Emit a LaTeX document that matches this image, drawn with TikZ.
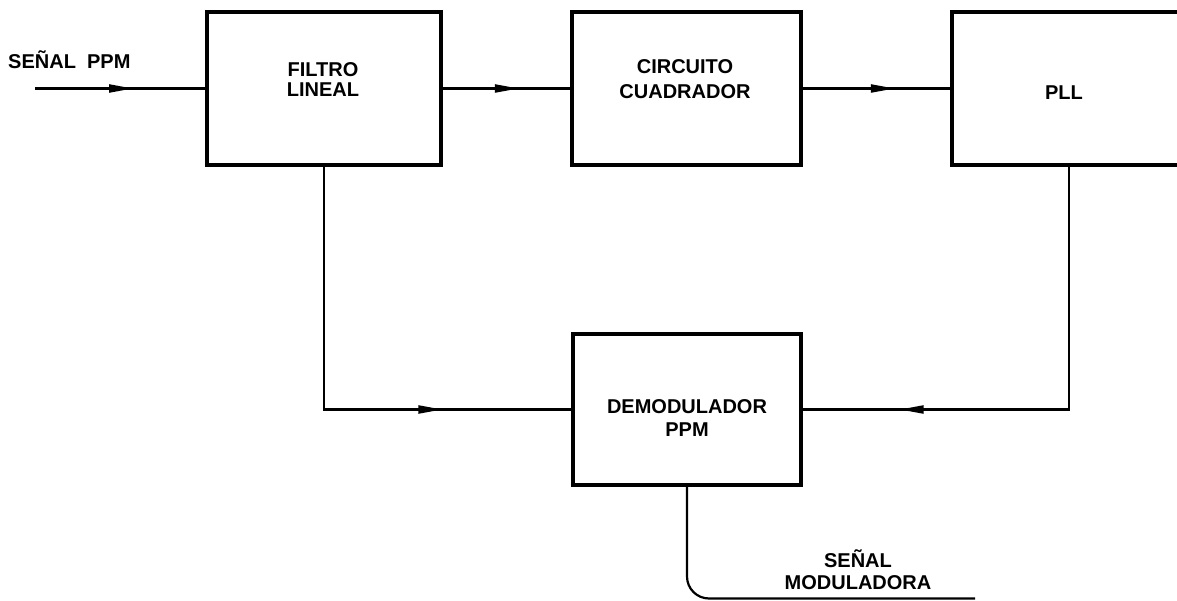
\documentclass[tikz,border=0pt]{standalone}
\usepackage{fontspec}
\setmainfont{Liberation Sans}
\usetikzlibrary{arrows.meta,decorations.markings}
\tikzset{
  blockbox/.style={draw, line width=3.6pt, inner sep=0pt},
  lbl/.style={font=\fontsize{20}{#1}\selectfont\bfseries, align=center, inner sep=0pt},
  lbl/.default=22,
  wire/.style={line width=2.2pt},
  midarrow/.style={postaction={decorate}, decoration={markings,
      mark=at position #1 with {\arrow{Triangle[length=24pt,width=8pt]}}}}
}
\begin{document}
\begin{tikzpicture}[x=1pt,y=-1pt]
\useasboundingbox (0,0) rectangle (1177,601);
\fill[white] (0,0) rectangle (1177,601);
\clip (0,0) rectangle (1177,601);

% blocks
\node[blockbox, minimum width=234pt, minimum height=153pt] (filtro) at (324,88.5) {};
\node[blockbox, minimum width=229pt, minimum height=153pt] (circ) at (686.5,88.5) {};
\node[blockbox, minimum width=234pt, minimum height=153pt] (pll) at (1069,88.5) {};
\node[blockbox, minimum width=228pt, minimum height=151pt] (demod) at (687,409.5) {};

% labels
\node[lbl=20] (filtrotxt) at (323,80) {FILTRO\\LINEAL};
\node[lbl=25] (circtxt) at (685,79) {CIRCUITO\\CUADRADOR};
\node[lbl] (plltxt) at (1064,93) {PLL};
\node[lbl=23] (demodtxt) at (687,418) {DEMODULADOR\\PPM};
\node[lbl, anchor=west] (intxt) at (8,60) {SEÑAL~~PPM};
\node[lbl=22] (outtxt) at (858,570) {SEÑAL\\MODULADORA};

% connectors
\coordinate (inp) at (35,88.5);
\coordinate (outend) at (975,598.5);
\draw[wire, midarrow=98pt] (inp) -- (filtro.west);
\draw[wire, midarrow=76pt] (filtro.east) -- (circ.west);
\draw[wire, midarrow=92pt] (circ.east) -- (pll.west);
\draw[wire, midarrow=361pt] (filtro.south) |- (demod.west);
\draw[wire, midarrow=412pt] (pll.south) |- (demod.east);
\draw[wire, rounded corners=22pt] (demod.south) |- (outend);
\end{tikzpicture}
\end{document}
